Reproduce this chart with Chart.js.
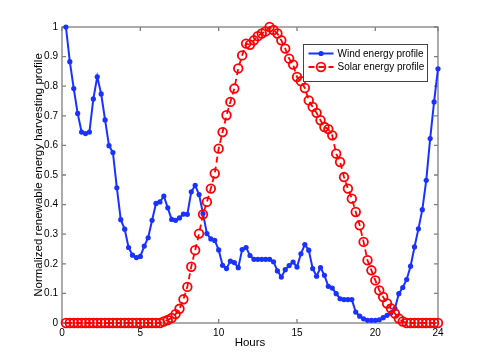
<!DOCTYPE html>
<html>
<head>
<meta charset="utf-8">
<script src="https://cdn.jsdelivr.net/npm/chart.js@4/dist/chart.umd.min.js"></script>
<style>body{margin:0;background:#fff}</style>
</head>
<body>
<canvas id="chart" width="485" height="363"></canvas>
<script>
// 15 minute samples over one day
const hours = [
  0.25,0.5,0.75,1,1.25,1.5,1.75,2,
  2.25,2.5,2.75,3,3.25,3.5,3.75,4,
  4.25,4.5,4.75,5,5.25,5.5,5.75,6,
  6.25,6.5,6.75,7,7.25,7.5,7.75,8,
  8.25,8.5,8.75,9,9.25,9.5,9.75,10,
  10.25,10.5,10.75,11,11.25,11.5,11.75,12,
  12.25,12.5,12.75,13,13.25,13.5,13.75,14,
  14.25,14.5,14.75,15,15.25,15.5,15.75,16,
  16.25,16.5,16.75,17,17.25,17.5,17.75,18,
  18.25,18.5,18.75,19,19.25,19.5,19.75,20,
  20.25,20.5,20.75,21,21.25,21.5,21.75,22,
  22.25,22.5,22.75,23,23.25,23.5,23.75,24
];
const wind = [
  1.0,0.883,0.792,0.708,0.645,0.64,0.645,0.757,
  0.832,0.774,0.686,0.599,0.576,0.457,0.349,0.317,
  0.255,0.229,0.221,0.225,0.26,0.288,0.347,0.404,
  0.409,0.429,0.389,0.350,0.347,0.355,0.368,0.367,
  0.443,0.465,0.434,0.37,0.302,0.284,0.279,0.247,
  0.195,0.184,0.209,0.204,0.187,0.248,0.255,0.228,
  0.215,0.215,0.215,0.215,0.215,0.207,0.176,0.155,
  0.18,0.194,0.206,0.189,0.234,0.265,0.246,0.184,
  0.158,0.187,0.161,0.124,0.118,0.099,0.082,0.079,
  0.079,0.079,0.037,0.023,0.014,0.009,0.009,0.009,
  0.011,0.018,0.026,0.034,0.049,0.099,0.12,0.147,
  0.192,0.257,0.318,0.383,0.482,0.623,0.747,0.859
];
const solar = [
  0,0,0,0,0,0,0,0,
  0,0,0,0,0,0,0,0,
  0,0,0,0,0,0,0,0,
  0,0.005,0.01,0.017,0.03,0.048,0.08,0.122,
  0.19,0.246,0.302,0.367,0.409,0.454,0.505,0.589,
  0.645,0.702,0.747,0.792,0.86,0.904,0.944,0.94,
  0.955,0.969,0.978,0.985,1.0,0.99,0.978,0.955,
  0.927,0.893,0.873,0.831,0.817,0.794,0.752,0.73,
  0.71,0.685,0.662,0.655,0.634,0.572,0.544,0.493,
  0.454,0.42,0.375,0.33,0.274,0.212,0.178,0.144,
  0.11,0.088,0.066,0.049,0.032,0.015,0.005,0,
  0,0,0,0,0,0,0,0
];
const xTicks = [0, 5, 10, 15, 20, 24];
const seriesNames = ["Wind energy profile", "Solar energy profile"];

const BLUE = 'rgb(25,50,255)';
const RED = '#ff0000';
const AXIS = '#7f7f7f';
const FONT = {family: '"Liberation Sans", Arial, sans-serif', size: 10};
const TITLE_FONT = {family: FONT.family, size: 11.5};

const toPoints = vals => vals.map((v, i) => ({x: hours[i], y: v}));

// MATLAB style box with inward ticks
const frame = {
  id: 'frame',
  beforeDatasetsDraw(chart) {
    const {ctx, chartArea: a, scales: {x, y}} = chart;
    ctx.save();
    ctx.strokeStyle = AXIS;
    ctx.lineWidth = 1.3;
    ctx.strokeRect(a.left, a.top, a.right - a.left, a.bottom - a.top);
    ctx.beginPath();
    x.ticks.forEach(t => {
      const px = x.getPixelForValue(t.value);
      ctx.moveTo(px, a.bottom); ctx.lineTo(px, a.bottom - 4);
      ctx.moveTo(px, a.top); ctx.lineTo(px, a.top + 4);
    });
    y.ticks.forEach(t => {
      const py = y.getPixelForValue(t.value);
      ctx.moveTo(a.left, py); ctx.lineTo(a.left + 4, py);
      ctx.moveTo(a.right, py); ctx.lineTo(a.right - 4, py);
    });
    ctx.stroke();
    ctx.restore();
  }
};

// legend box inside the top right corner of the axes
const boxLegend = {
  id: 'boxLegend',
  afterDraw(chart) {
    const {ctx, chartArea: a} = chart;
    const bx = a.right - 134.5, by = a.top + 17.5, bw = 124, bh = 37;
    ctx.save();
    ctx.fillStyle = '#fff';
    ctx.fillRect(bx, by, bw, bh);
    ctx.strokeStyle = '#444';
    ctx.lineWidth = 1;
    ctx.strokeRect(bx, by, bw, bh);
    chart.data.datasets.forEach((ds, i) => {
      const yy = by + 9 + i * 13.5;
      ctx.strokeStyle = ds.borderColor;
      ctx.lineWidth = ds.borderWidth;
      ctx.setLineDash(ds.borderDash || []);
      ctx.beginPath();
      ctx.moveTo(bx + 5, yy); ctx.lineTo(bx + 30, yy);
      ctx.stroke();
      ctx.setLineDash([]);
      ctx.beginPath();
      ctx.arc(bx + 17.5, yy, ds.pointRadius, 0, Math.PI * 2);
      if (ds.pointBackgroundColor !== 'transparent') {
        ctx.fillStyle = ds.pointBackgroundColor;
        ctx.fill();
      } else {
        ctx.lineWidth = ds.pointBorderWidth;
        ctx.stroke();
      }
      ctx.fillStyle = '#000';
      ctx.font = '10px ' + FONT.family;
      ctx.textBaseline = 'middle';
      ctx.fillText(ds.label, bx + 34, yy + 0.5);
    });
    ctx.restore();
  }
};

new Chart(document.getElementById('chart'), {
  type: 'scatter',
  data: {
    datasets: [{
      label: seriesNames[0],
      data: toPoints(wind),
      showLine: true,
      borderColor: BLUE,
      borderWidth: 2,
      pointRadius: 2.6,
      pointBorderWidth: 0,
      pointBackgroundColor: BLUE,
      clip: false,
      order: 1
    }, {
      label: seriesNames[1],
      data: toPoints(solar),
      showLine: true,
      borderColor: RED,
      borderWidth: 1.8,
      borderDash: [6, 4],
      pointRadius: 4.3,
      pointBorderWidth: 1.8,
      pointBorderColor: RED,
      pointBackgroundColor: 'transparent',
      clip: false,
      order: 0
    }]
  },
  options: {
    responsive: false,
    animation: false,
    layout: {padding: {left: 0, top: 27, right: 47, bottom: 0}},
    plugins: {legend: {display: false}, tooltip: {enabled: false}},
    scales: {
      x: {
        type: 'linear',
        min: 0, max: 24,
        afterBuildTicks: s => { s.ticks = xTicks.map(v => ({value: v})); },
        afterFit: s => { s.height = 40; },
        grid: {display: false, drawTicks: false},
        border: {display: false},
        ticks: {color: '#000', font: FONT, padding: 4, maxRotation: 0},
        title: {display: true, text: 'Hours', color: '#000', font: TITLE_FONT, padding: {top: 0, bottom: 13}}
      },
      y: {
        min: 0, max: 1,
        afterFit: s => { s.width = 62; },
        grid: {display: false, drawTicks: false},
        border: {display: false},
        ticks: {color: '#000', font: FONT, padding: 4, stepSize: 0.1,
                callback: v => String(+v.toFixed(1))},
        title: {display: true, text: 'Normalized renewable energy harvesting profile', color: '#000', font: TITLE_FONT, padding: {top: 32, bottom: 0}}
      }
    }
  },
  plugins: [frame, boxLegend]
});
</script>
</body>
</html>
